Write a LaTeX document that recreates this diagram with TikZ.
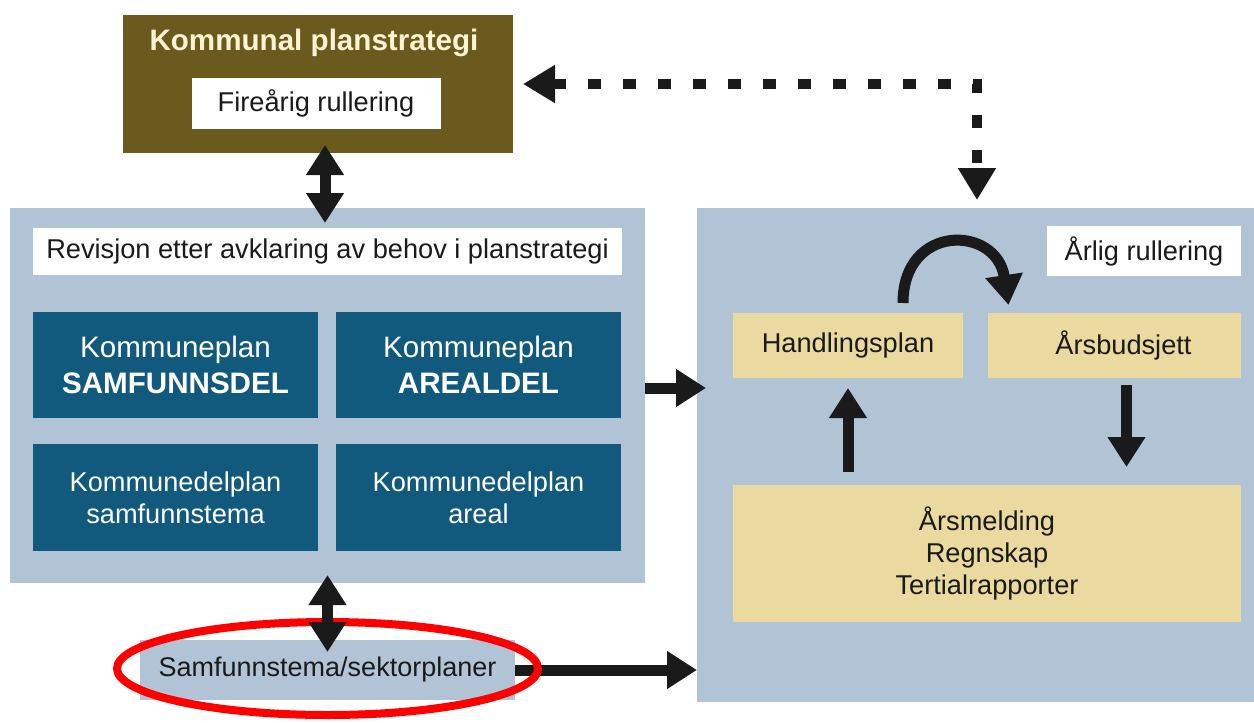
\documentclass[tikz,border=0pt]{standalone}
\usepackage{fontspec}
\setmainfont{Liberation Sans}
\usetikzlibrary{arrows.meta,calc,shapes.geometric}
\definecolor{brownbox}{HTML}{6B5A1E}
\definecolor{panel}{HTML}{B1C4D6}
\definecolor{darkblue}{HTML}{115A7E}
\definecolor{tanbox}{HTML}{EADAA0}
\definecolor{cream}{HTML}{FFF4D2}
\definecolor{ink}{HTML}{1A1A1A}
\begin{document}
\begin{tikzpicture}[x=0.5pt,y=-0.5pt,
  sz/.style 2 args={minimum width={#1*0.5pt}, minimum height={#2*0.5pt}},
  boxbase/.style={inner sep=0pt, outer sep=0pt, draw=none, align=center},
  panelbox/.style={boxbase, fill=panel},
  whitebox/.style={boxbase, fill=white, text=ink, font=\fontsize{13.6}{16}\selectfont},
  bluebox/.style={boxbase, fill=darkblue, text=white, font=\fontsize{14.8}{18}\selectfont},
  bluesmall/.style={boxbase, fill=darkblue, text=white, font=\fontsize{13.6}{16}\selectfont},
  tanbx/.style={boxbase, fill=tanbox, text=ink, font=\fontsize{13.6}{16}\selectfont},
  bigarrow/.style={draw=ink, line width=5.5pt, -{Triangle[width=18pt,length=15pt]}},
  dblarrow/.style={draw=ink, line width=5.5pt, {Triangle[width=18pt,length=15pt]}-{Triangle[width=18pt,length=15pt]}},
  dotarrow/.style={draw=ink, line width=5pt, dash pattern=on 6.5pt off 11pt,
    {Triangle[width=18pt,length=16pt]}-{Triangle[width=18pt,length=16pt]}}
]
\useasboundingbox (0,0) rectangle (1254,723);
\fill[white] (0,0) rectangle (1254,723);

% top brown box
\node[boxbase, fill=brownbox, sz={390}{138}] (kps) at (318,84) {};
\node[boxbase, text=cream, font=\bfseries\fontsize{14.8}{17}\selectfont] (kpt) at (314,43) {Kommunal planstrategi};
\node[whitebox, sz={249}{51}] (fr) at (316,103.5) {Fireårig rullering};

% left panel
\node[panelbox, sz={635}{375}] (left) at (327.5,395.5) {};
\node[whitebox, sz={589}{47}] (rev) at (327.5,251.5) {Revisjon etter avklaring av behov i planstrategi};
\node[bluebox, sz={285}{106}] (ksd) at (175.5,365) {Kommuneplan\\\bfseries SAMFUNNSDEL};
\node[bluebox, sz={285}{106}] (kad) at (478.5,365) {Kommuneplan\\\bfseries AREALDEL};
\node[bluesmall, sz={285}{107}] (kds) at (175.5,497.5) {Kommunedelplan\\samfunnstema};
\node[bluesmall, sz={285}{107}] (kda) at (478.5,497.5) {Kommunedelplan\\areal};

% right panel
\node[panelbox, sz={557}{494}] (right) at (975.5,455) {};
\node[whitebox, sz={194}{50}] (ar) at (1144,251) {Årlig rullering};
\node[tanbx, sz={230}{65}] (hp) at (848,345.5) {Handlingsplan};
\node[tanbx, sz={253}{65}] (ab) at (1114.5,345.5) {\hspace*{9pt}Årsbudsjett};
\node[tanbx, sz={508}{137}] (tb) at (987,553.5) {Årsmelding\\Regnskap\\Tertialrapporter};

% bottom box
\node[panelbox, sz={375}{60}, text=ink, font=\fontsize{13.5}{16}\selectfont] (sf) at (327.5,670) {Samfunnstema/sektorplaner};

% connectors
\draw[dblarrow] ($(kps.south)+(7,-8)$) -- ($(kps.south |- left.north)+(7,15)$);
\coordinate (dc) at (977,84);
\draw[dotarrow] ($(kps.east)+(10,0)$) -- (dc) -- ($(dc |- right.north)+(0,-8)$);
\draw[bigarrow] ($(left.east)+(0,-7.5)$) -- ($(left.east -| right.west)+(9,-7.5)$);
\draw[bigarrow] ($(tb.north -| hp.south)+(0,-13)$) -- ($(hp.south)+(0,10)$);
\draw[bigarrow] ($(ab.south)+(12,7)$) -- ($(ab.south |- tb.north)+(12,-18)$);
\draw[bigarrow] ($(hp.north)+(55,-10)$) .. controls +(0,-80) and +(-12,-80) .. ($(ab.north)+(-106,-8)$);
\draw[bigarrow] (sf.east) -- (sf.east -| right.west);
\node[ellipse, draw=red, line width=4pt, inner sep=0pt, minimum width=210.5pt, minimum height=46.5pt] (ring) at (327.5,668.5) {};
\draw[dblarrow] ($(left.south -| sf.north)+(0,-8)$) -- ($(sf.north)+(0,12)$);
\end{tikzpicture}
\end{document}
